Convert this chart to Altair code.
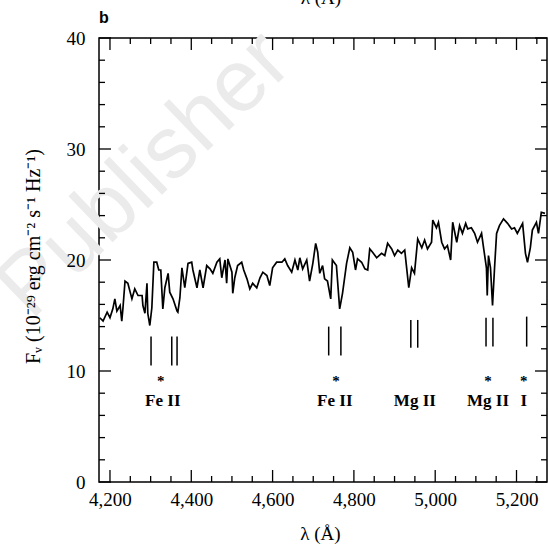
import altair as alt
import pandas as pd

# ---------------- data ----------------
wavelength = [4175, 4183, 4193, 4200, 4207, 4212, 4217, 4225, 4229, 4232, 4237, 4244, 4254, 4261,
              4269, 4279, 4281, 4286, 4291, 4293, 4298, 4303, 4308, 4315, 4320, 4325, 4330, 4335,
              4343, 4347, 4355, 4365, 4367, 4372, 4377, 4384, 4392, 4401, 4404, 4414, 4421, 4429,
              4438, 4446, 4453, 4463, 4470, 4475, 4483, 4487, 4490, 4500, 4502, 4507, 4514, 4524,
              4529, 4537, 4544, 4551, 4561, 4569, 4576, 4586, 4593, 4600, 4610, 4623, 4630, 4637,
              4647, 4655, 4662, 4667, 4674, 4684, 4691, 4699, 4706, 4711, 4716, 4723, 4728, 4735,
              4743, 4747, 4757, 4765, 4772, 4782, 4790, 4797, 4804, 4809, 4819, 4827, 4834, 4839,
              4846, 4856, 4868, 4876, 4883, 4893, 4900, 4908, 4917, 4925, 4930, 4935, 4942, 4949,
              4957, 4967, 4974, 4981, 4991, 4994, 5003, 5008, 5016, 5023, 5030, 5038, 5043, 5053,
              5060, 5067, 5075, 5080, 5089, 5097, 5104, 5114, 5119, 5126, 5128, 5131, 5136, 5141,
              5146, 5151, 5158, 5168, 5178, 5188, 5195, 5202, 5215, 5222, 5227, 5234, 5239, 5249,
              5254, 5261, 5270]
flux = [14.8, 14.5, 15.3, 14.8, 15.6, 16.5, 15.4, 15.9, 14.5, 15.7, 18.1, 17.9, 16.5, 17.4,
        16.8, 16.8, 15.9, 15.2, 17.9, 15.2, 14.1, 15.7, 19.8, 19.8, 19.1, 19.1, 15.6, 17.5,
        18.8, 17.1, 16.5, 15.4, 15.3, 16.6, 19.3, 17.5, 19.7, 19.8, 19.1, 17.5, 19.1, 17.5,
        19.5, 19.2, 18.8, 19.8, 20.1, 18.4, 20.0, 17.9, 20.1, 18.9, 17.0, 18.4, 19.5, 19.8,
        19.1, 18.3, 17.4, 17.9, 17.5, 18.4, 18.9, 18.6, 17.7, 19.3, 19.8, 19.8, 20.1, 19.5,
        18.9, 20.0, 19.1, 20.2, 19.2, 20.0, 18.1, 19.7, 21.5, 20.7, 18.8, 19.5, 18.3, 18.1,
        16.5, 20.0, 19.5, 15.6, 17.0, 19.7, 21.1, 20.7, 19.1, 20.1, 19.8, 19.2, 19.1, 21.0,
        20.7, 20.2, 20.6, 20.4, 21.5, 21.0, 20.4, 20.9, 20.6, 20.9, 19.2, 17.5, 19.3, 18.8,
        21.9, 21.1, 21.8, 21.0, 21.6, 23.6, 22.9, 23.4, 21.6, 21.0, 21.3, 20.0, 23.4, 21.6,
        23.1, 22.4, 23.3, 22.8, 22.9, 22.4, 21.6, 22.4, 21.1, 19.3, 16.8, 20.4, 19.3, 15.9,
        19.3, 22.4, 23.1, 23.7, 23.3, 22.8, 22.9, 22.4, 23.3, 20.6, 19.8, 21.1, 22.7, 23.4,
        22.4, 24.3, 24.2]

line_wavelength = [4301, 4352, 4365, 4738, 4768, 4940, 4957, 5125, 5142, 5225]
line_top = [13.1, 13.1, 13.1, 14.0, 14.0, 14.6, 14.6, 14.8, 14.8, 14.9]
line_bottom = [10.5, 10.5, 10.5, 11.4, 11.4, 12.1, 12.1, 12.2, 12.2, 12.2]

star_wavelength = [4325, 4756, 5130, 5218]
star_flux = [9.45, 9.45, 9.45, 9.45]

ion_labels = ["Fe II", "Fe II", "Mg II", "Mg II", "I"]
ion_wavelength = [4330, 4753, 4950, 5130, 5218]
ion_flux = [7.3, 7.3, 7.3, 7.3, 7.3]

x_major = [4200, 4400, 4600, 4800, 5000, 5200]
x_minor = [4250, 4300, 4350, 4450, 4500, 4550, 4650, 4700, 4750, 4850, 4900, 4950,
           5050, 5100, 5150, 5250]
y_major = [0, 10, 20, 30, 40]
y_minor = [2, 4, 6, 8, 12, 14, 16, 18, 22, 24, 26, 28, 32, 34, 36, 38]

x_domain = [4173, 5275]
y_domain = [0, 40]

# ---------------- chart ----------------
W, H = 448, 444
SERIF = "Liberation Serif"

xscale = alt.Scale(domain=x_domain, nice=False, zero=False)
yscale = alt.Scale(domain=y_domain, nice=False)

x_axis = alt.Axis(values=x_major, format=",d", ticks=False, domain=False, grid=False,
                  labelFont=SERIF, labelFontSize=19, labelPadding=8, labelColor="black",
                  title="λ (Å)", titleFont=SERIF, titleFontSize=19, titleFontWeight="normal",
                  titleColor="black", titleX=W / 2 - 3, titleY=51, titleBaseline="middle",
                  titleAlign="center", zindex=1)
y_axis = alt.Axis(values=y_major, ticks=False, domain=False, grid=False,
                  labelFont=SERIF, labelFontSize=19, labelPadding=14, labelColor="black",
                  title="Fᵥ (10⁻²⁹ erg cm⁻² s⁻¹ Hz⁻¹)", titleFont=SERIF, titleFontSize=20,
                  titleFontWeight="normal", titleColor="black", titleX=-66, titleY=H / 2 - 4,
                  titleAngle=270, titleBaseline="middle", titleAlign="center", zindex=1)


def X(field):
    return alt.X(field, type="quantitative", scale=xscale, axis=x_axis)


def Y(field):
    return alt.Y(field, type="quantitative", scale=yscale, axis=y_axis)


spec_df = pd.DataFrame({"wavelength": wavelength, "flux": flux})
lines_df = pd.DataFrame({"wavelength": line_wavelength, "top": line_top, "bottom": line_bottom})
star_df = pd.DataFrame({"wavelength": star_wavelength, "flux": star_flux, "t": ["*"] * len(star_wavelength)})
ion_df = pd.DataFrame({"wavelength": ion_wavelength, "flux": ion_flux, "label": ion_labels})
xmaj_df = pd.DataFrame({"wavelength": x_major})
xmin_df = pd.DataFrame({"wavelength": x_minor})
ymaj_df = pd.DataFrame({"flux": y_major})
ymin_df = pd.DataFrame({"flux": y_minor})

watermark = alt.Chart(pd.DataFrame({"t": ["Publisher"]})).mark_text(
    font="Liberation Sans", fontSize=88, color="#ebebeb", angle=316,
    align="center", baseline="middle"
).encode(text="t:N", x=alt.value(46), y=alt.value(137))

spectrum = alt.Chart(spec_df).mark_line(color="black", strokeWidth=1.7).encode(
    x=X("wavelength"), y=Y("flux"))

markers = alt.Chart(lines_df).mark_rule(color="black", strokeWidth=1.5).encode(
    x=X("wavelength"), y=Y("top"), y2="bottom")

stars = alt.Chart(star_df).mark_text(font=SERIF, fontSize=15, fontWeight="bold",
                                     baseline="middle", dy=4, color="black").encode(
    x=X("wavelength"), y=Y("flux"), text="t:N")

ions = alt.Chart(ion_df).mark_text(font=SERIF, fontSize=17, fontWeight="bold",
                                   baseline="middle", color="black").encode(
    x=X("wavelength"), y=Y("flux"), text="label:N")

MAJ, MIN = 12, 6
tick_style = dict(color="black", strokeWidth=1.3)
ticks = [
    alt.Chart(xmaj_df).mark_rule(**tick_style).encode(x=X("wavelength"), y=alt.value(H), y2=alt.value(H - MAJ)),
    alt.Chart(xmin_df).mark_rule(**tick_style).encode(x=X("wavelength"), y=alt.value(H), y2=alt.value(H - MIN)),
    alt.Chart(xmaj_df).mark_rule(**tick_style).encode(x=X("wavelength"), y=alt.value(0), y2=alt.value(MAJ)),
    alt.Chart(xmin_df).mark_rule(**tick_style).encode(x=X("wavelength"), y=alt.value(0), y2=alt.value(MIN)),
    alt.Chart(ymaj_df).mark_rule(**tick_style).encode(y=Y("flux"), x=alt.value(0), x2=alt.value(MAJ)),
    alt.Chart(ymin_df).mark_rule(**tick_style).encode(y=Y("flux"), x=alt.value(0), x2=alt.value(MIN)),
    alt.Chart(ymaj_df).mark_rule(**tick_style).encode(y=Y("flux"), x=alt.value(W), x2=alt.value(W - MAJ)),
    alt.Chart(ymin_df).mark_rule(**tick_style).encode(y=Y("flux"), x=alt.value(W), x2=alt.value(W - MIN)),
]

panel_letter = alt.Chart(pd.DataFrame({"t": ["b"]})).mark_text(
    font="Liberation Sans", fontSize=16, fontWeight="bold", align="left", baseline="middle",
    color="black").encode(text="t:N", x=alt.value(0), y=alt.value(-20))

top_title = alt.Chart(pd.DataFrame({"t": ["λ (Å)"]})).mark_text(
    font=SERIF, fontSize=19, align="center", baseline="alphabetic", color="black").encode(
    text="t:N", x=alt.value(W / 2 - 2), y=alt.value(-34))

chart = alt.layer(
    watermark, spectrum, markers, stars, ions, *ticks, panel_letter, top_title
).properties(
    width=W, height=H,
    autosize=alt.AutoSizeParams(type="none"),
    padding={"left": 99, "top": 38, "right": 1, "bottom": 67},
    background="white",
).configure_view(stroke="black", strokeWidth=1.5)

chart.save("out.html", embed_options={"renderer": "svg", "actions": False})
